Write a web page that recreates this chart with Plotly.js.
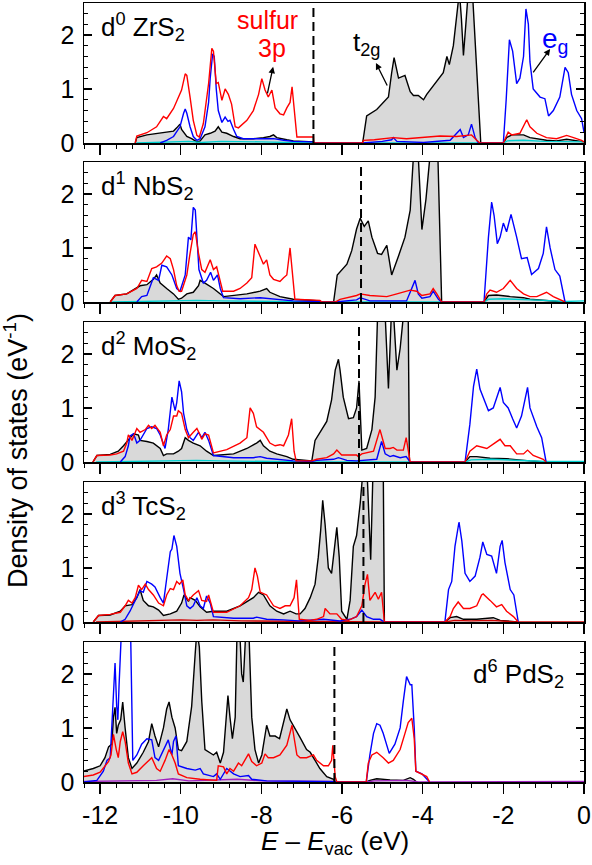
<!DOCTYPE html>
<html>
<head>
<meta charset="utf-8">
<script src="https://cdn.plot.ly/plotly-3.0.1.min.js"></script>
<style>html,body{margin:0;padding:0;background:#fff;}#chart{width:592px;height:865px;}</style>
</head>
<body>
<div id="chart"></div>
<script>
// ---------- DATA : [energy (eV), DOS (1/eV)] ----------
const compounds = ['d<sup>0</sup> ZrS<sub>2</sub>', 'd<sup>1</sup> NbS<sub>2</sub>', 'd<sup>2</sup> MoS<sub>2</sub>', 'd<sup>3</sup> TcS<sub>2</sub>', 'd<sup>6</sup> PdS<sub>2</sub>'];
const fermiLevels = [-6.71, -5.53, -5.58, -5.47, -6.19];
const xTickVals = [-12, -10, -8, -6, -4, -2, 0];
const xTickText = ['-12', '-10', '-8', '-6', '-4', '-2', '0'];
const yTickVals = [0, 1, 2];
const yTickText = ['0', '1', '2'];

// ZrS2
const ZrS2_t2g = [[-11.13,0],[-11.09,0.1],[-10.84,0.15],[-10.60,0.18],[-10.35,0.2],[-10.18,0.22],[-10.10,0.28],[-10.02,0.35],[-9.98,0.25],[-9.85,0.12],[-9.73,0.08],[-9.60,0.02],[-9.52,0.04],[-9.40,0.15],[-9.27,0.18],[-9.15,0.22],[-9.07,0.3],[-8.98,0.2],[-8.86,0.18],[-8.69,0.12],[-8.53,0.08],[-8.20,0.08],[-7.95,0.1],[-7.79,0.12],[-7.70,0.15],[-7.62,0.1],[-7.37,0.06],[-7.21,0.04],[-6.71,0.02],[-6.70,0],
  [-5.49,0],[-5.39,0.5],[-5.14,0.62],[-4.85,0.85],[-4.77,1.3],[-4.71,1.58],[-4.60,1.2],[-4.44,1.25],[-4.31,0.95],[-4.23,0.88],[-4.11,0.88],[-4.02,0.82],[-3.98,0.8],[-3.90,0.9],[-3.65,1.15],[-3.49,1.3],[-3.40,1.6],[-3.34,1.45],[-3.24,1.8],[-3.16,2.3],[-3.09,2.8],[-3.04,2.3],[-2.99,1.62],[-2.93,2.2],[-2.86,2.9],[-2.80,3.0],[-2.76,2.7],[-2.56,0],
  [-2.0,0],[-1.92,0.1],[-1.79,0.15],[-1.50,0.15],[-1.34,0.1],[-0.93,0.05],[-0.68,0.04],[-0.43,0.07],[-0.02,0.02],[0,0.02]];
const ZrS2_eg = [[-10.51,0],[-10.35,0.05],[-10.18,0.12],[-10.02,0.3],[-9.93,0.55],[-9.89,0.63],[-9.85,0.55],[-9.77,0.3],[-9.69,0.12],[-9.60,0.05],[-9.52,0.08],[-9.40,0.3],[-9.31,0.75],[-9.27,1.2],[-9.21,1.65],[-9.17,1.6],[-9.12,1.0],[-9.07,0.6],[-8.98,0.38],[-8.90,0.48],[-8.83,0.4],[-8.78,0.42],[-8.69,0.25],[-8.61,0.12],[-8.45,0.08],[-8.03,0.08],[-7.70,0.08],[-7.45,0.05],[-7.21,0.03],[-6.71,0.02],[-6.70,0],
  [-5.49,0],[-5.0,0.03],[-4.77,0.06],[-4.73,0.1],[-4.64,0.03],[-3.98,0.01],[-3.32,0.05],[-3.07,0.25],[-2.99,0.1],[-2.87,0.15],[-2.79,0.35],[-2.70,0.1],[-2.62,0],
  [-2.0,0],[-1.93,0.8],[-1.85,1.91],[-1.77,1.7],[-1.67,1.1],[-1.59,1.2],[-1.50,1.6],[-1.44,2.48],[-1.38,2.2],[-1.34,1.5],[-1.26,1.0],[-1.09,0.85],[-0.97,0.82],[-0.88,0.5],[-0.76,0.6],[-0.60,0.85],[-0.47,1.4],[-0.39,1.3],[-0.31,0.9],[-0.18,0.6],[-0.06,0.45],[0,0.2]];
const ZrS2_S3p = [[-11.13,0],[-11.09,0.13],[-10.84,0.19],[-10.60,0.3],[-10.43,0.49],[-10.35,0.45],[-10.18,0.64],[-10.06,0.85],[-9.98,0.98],[-9.89,1.28],[-9.85,1.25],[-9.77,0.85],[-9.69,0.42],[-9.60,0.14],[-9.54,0.11],[-9.44,0.36],[-9.31,1.1],[-9.23,1.75],[-9.19,1.7],[-9.12,1.1],[-9.07,1.12],[-8.98,0.79],[-8.90,1.0],[-8.82,0.9],[-8.74,0.72],[-8.65,0.3],[-8.57,0.28],[-8.36,0.42],[-8.20,0.6],[-8.07,0.9],[-7.99,1.19],[-7.91,0.98],[-7.83,0.85],[-7.74,0.98],[-7.66,0.65],[-7.54,0.54],[-7.45,0.52],[-7.37,0.65],[-7.29,0.75],[-7.24,1.04],[-7.19,0.7],[-7.12,0.11],[-6.71,0.11],[-6.70,0],
  [-5.49,0],[-5.47,0.05],[-5.2,0.06],[-4.73,0.1],[-4.4,0.08],[-3.98,0.1],[-3.57,0.13],[-3.16,0.12],[-2.79,0.15],[-2.66,0.05],[-2.58,0],
  [-2.0,0],[-1.93,0.12],[-1.88,0.2],[-1.79,0.15],[-1.59,0.18],[-1.42,0.43],[-1.34,0.3],[-1.17,0.18],[-0.93,0.1],[-0.68,0.08],[-0.43,0.14],[-0.26,0.1],[-0.06,0.05],[0,0.02]];
const ZrS2_s = [[-11.1,0],[-10.0,0.02],[-9.8,0.03],[-9.5,0.01],[-9.0,0.03],[-8.0,0.02],[-7.0,0.01],[-6.7,0],[-2.0,0],[-1.9,0.04],[-1.5,0.05],[-1.0,0.03],[0,0.02]];

// NbS2
const NbS2_t2g = [[-11.75,0],[-11.63,0.12],[-11.34,0.15],[-11.17,0.22],[-11.01,0.3],[-10.84,0.32],[-10.68,0.42],[-10.60,0.5],[-10.51,0.35],[-10.35,0.25],[-10.18,0.15],[-10.06,0.05],[-9.98,0.07],[-9.85,0.15],[-9.69,0.18],[-9.56,0.3],[-9.52,0.4],[-9.40,0.35],[-9.19,0.25],[-8.94,0.1],[-8.69,0.12],[-8.36,0.15],[-8.03,0.2],[-7.87,0.25],[-7.79,0.18],[-7.54,0.1],[-7.21,0.05],[-6.55,0.02],[-6.5,0],
  [-6.21,0],[-6.12,0.5],[-5.88,0.7],[-5.76,0.95],[-5.64,1.35],[-5.55,1.55],[-5.45,1.4],[-5.35,1.5],[-5.26,1.2],[-5.12,0.9],[-5.02,0.88],[-4.89,1.05],[-4.77,0.5],[-4.60,0.85],[-4.44,1.2],[-4.31,1.7],[-4.25,2.7],[-4.19,3.2],[-4.11,2.7],[-4.02,1.34],[-3.92,1.9],[-3.82,2.7],[-3.70,3.0],[-3.62,2.6],[-3.53,0],
  [-2.48,0],[-2.37,0.12],[-2.17,0.13],[-1.83,0.1],[-1.50,0.08],[-1.34,0.05],[-0.93,0.03],[-0.47,0]];
const NbS2_eg = [[-11.09,0],[-10.97,0.1],[-10.84,0.12],[-10.68,0.45],[-10.55,0.4],[-10.47,0.68],[-10.35,0.65],[-10.22,0.5],[-10.10,0.25],[-10.02,0.2],[-9.89,0.5],[-9.81,1.2],[-9.75,1.15],[-9.69,1.75],[-9.64,1.7],[-9.60,1.2],[-9.55,0.6],[-9.44,0.35],[-9.36,0.4],[-9.26,0.55],[-9.19,0.4],[-9.09,0.5],[-9.02,0.25],[-8.94,0.08],[-8.53,0.06],[-8.03,0.08],[-7.87,0.07],[-7.54,0.04],[-7.21,0.02],[-6.55,0.01],[-6.5,0],
  [-6.17,0],[-5.64,0.04],[-5.55,0.08],[-5.31,0.02],[-4.40,0.02],[-4.19,0.4],[-4.11,0.15],[-4.02,0.07],[-3.82,0.1],[-3.74,0.2],[-3.61,0.05],[-3.53,0],
  [-2.48,0],[-2.37,1.2],[-2.29,1.85],[-2.23,1.6],[-2.15,1.08],[-2.08,1.2],[-2.0,1.46],[-1.92,1.3],[-1.81,1.62],[-1.75,1.45],[-1.67,1.2],[-1.55,0.8],[-1.41,0.82],[-1.30,0.51],[-1.13,0.62],[-1.01,0.9],[-0.93,1.39],[-0.84,1.0],[-0.72,0.6],[-0.60,0.48],[-0.51,0.1],[-0.47,0]];
const NbS2_S3p = [[-11.75,0],[-11.63,0.12],[-11.34,0.15],[-11.09,0.25],[-10.97,0.4],[-10.84,0.38],[-10.72,0.62],[-10.60,0.65],[-10.47,0.72],[-10.35,0.85],[-10.26,0.8],[-10.18,0.6],[-10.10,0.3],[-10.04,0.2],[-9.98,0.2],[-9.85,0.5],[-9.77,0.9],[-9.69,1.25],[-9.64,1.3],[-9.56,0.9],[-9.48,0.6],[-9.40,0.55],[-9.27,0.78],[-9.19,0.6],[-9.11,0.65],[-9.02,0.35],[-8.96,0.2],[-8.69,0.2],[-8.53,0.25],[-8.36,0.35],[-8.24,0.45],[-8.16,1.07],[-8.07,0.9],[-7.95,0.7],[-7.87,0.78],[-7.79,0.5],[-7.70,0.42],[-7.54,0.38],[-7.45,0.45],[-7.37,0.5],[-7.29,1.0],[-7.22,0.5],[-7.17,0.05],[-6.55,0.03],[-6.5,0],
  [-6.17,0],[-6.05,0.05],[-5.64,0.12],[-5.55,0.15],[-5.31,0.12],[-4.89,0.1],[-4.64,0.15],[-4.31,0.22],[-4.15,0.2],[-4.02,0.12],[-3.82,0.15],[-3.74,0.25],[-3.65,0.15],[-3.53,0],
  [-2.48,0],[-2.41,0.15],[-2.33,0.22],[-2.17,0.18],[-2.0,0.25],[-1.83,0.4],[-1.67,0.25],[-1.50,0.15],[-1.34,0.1],[-1.17,0.1],[-0.93,0.18],[-0.76,0.1],[-0.47,0]];
const NbS2_s = [[-11.7,0],[-10.0,0.02],[-9.6,0.03],[-9.0,0.02],[-7.5,0.01],[-6.5,0],[-2.48,0],[-2.37,0.05],[-2.0,0.06],[-1.5,0.05],[-1.0,0.03],[-0.47,0.01],[0,0.02]];

// MoS2
const MoS2_t2g = [[-12.18,0],[-12.08,0.12],[-11.75,0.14],[-11.55,0.2],[-11.42,0.3],[-11.26,0.45],[-11.17,0.52],[-11.05,0.5],[-11.01,0.4],[-10.84,0.38],[-10.68,0.35],[-10.51,0.25],[-10.43,0.12],[-10.35,0.15],[-10.18,0.15],[-10.06,0.2],[-9.98,0.25],[-9.89,0.45],[-9.81,0.4],[-9.69,0.35],[-9.52,0.3],[-9.36,0.2],[-9.19,0.12],[-8.69,0.15],[-8.36,0.25],[-8.12,0.35],[-8.03,0.4],[-7.95,0.3],[-7.79,0.2],[-7.62,0.15],[-7.37,0.1],[-7.21,0.05],[-6.75,0.02],
  [-6.67,0.4],[-6.55,0.55],[-6.38,0.75],[-6.26,1.15],[-6.17,1.7],[-6.09,1.9],[-6.05,1.7],[-5.97,1.2],[-5.84,0.8],[-5.72,0.82],[-5.64,1.0],[-5.58,1.5],[-5.55,0.8],[-5.51,0.22],[-5.39,0.25],[-5.26,0.6],[-5.18,1.2],[-5.12,2.7],[-5.0,3.0],[-4.93,2.7],[-4.85,1.36],[-4.78,2.7],[-4.72,2.7],[-4.64,1.7],[-4.56,2.1],[-4.48,2.7],[-4.36,2.8],[-4.33,0],
  [-2.95,0],[-2.83,0.1],[-2.66,0.1],[-2.33,0.07],[-1.92,0.06],[-1.67,0.04],[-1.34,0.02],[-0.94,0]];
const MoS2_eg = [[-11.50,0],[-11.38,0.1],[-11.30,0.3],[-11.26,0.48],[-11.17,0.52],[-11.09,0.35],[-11.01,0.4],[-10.93,0.5],[-10.84,0.62],[-10.72,0.65],[-10.60,0.62],[-10.51,0.5],[-10.39,0.25],[-10.31,0.6],[-10.22,1.2],[-10.14,0.95],[-10.10,1.1],[-10.04,1.5],[-9.98,1.3],[-9.93,0.9],[-9.85,0.6],[-9.77,0.45],[-9.69,0.4],[-9.56,0.55],[-9.48,0.45],[-9.40,0.55],[-9.31,0.4],[-9.19,0.12],[-8.69,0.08],[-8.20,0.08],[-8.03,0.1],[-7.87,0.07],[-7.54,0.04],[-7.21,0.02],[-6.75,0.01],
  [-6.63,0.03],[-6.21,0.05],[-6.09,0.08],[-5.88,0.03],[-5.64,0.02],[-5.14,0.05],[-5.02,0.38],[-4.93,0.15],[-4.81,0.1],[-4.73,0.12],[-4.56,0.08],[-4.41,0.1],[-4.31,0],
  [-2.95,0],[-2.83,0.7],[-2.74,1.4],[-2.66,1.72],[-2.58,1.35],[-2.50,1.2],[-2.37,0.95],[-2.25,1.0],[-2.17,1.2],[-2.08,1.38],[-2.0,1.1],[-1.88,1.0],[-1.77,0.8],[-1.67,0.63],[-1.55,0.85],[-1.40,1.38],[-1.34,1.0],[-1.17,0.65],[-1.05,0.45],[-0.94,0]];
const MoS2_S3p = [[-12.18,0],[-12.08,0.12],[-11.75,0.13],[-11.59,0.15],[-11.42,0.2],[-11.34,0.35],[-11.30,0.5],[-11.21,0.4],[-11.09,0.62],[-11.01,0.55],[-10.88,0.6],[-10.80,0.68],[-10.72,0.62],[-10.64,0.68],[-10.51,0.55],[-10.43,0.3],[-10.35,0.5],[-10.26,0.6],[-10.18,0.85],[-10.10,0.85],[-10.06,0.95],[-9.98,0.9],[-9.89,0.6],[-9.81,0.45],[-9.69,0.55],[-9.60,0.62],[-9.52,0.5],[-9.48,0.42],[-9.40,0.52],[-9.31,0.5],[-9.19,0.17],[-8.86,0.23],[-8.53,0.35],[-8.36,0.45],[-8.28,1.0],[-8.20,0.9],[-8.12,0.65],[-7.95,0.55],[-7.79,0.35],[-7.66,0.3],[-7.54,0.32],[-7.45,0.3],[-7.33,0.5],[-7.25,0.8],[-7.19,0.2],[-7.14,0.02],[-6.75,0.02],
  [-6.63,0.05],[-6.38,0.08],[-6.21,0.15],[-6.13,0.22],[-6.01,0.13],[-5.64,0.13],[-5.60,0.1],[-5.51,0.15],[-5.22,0.2],[-5.06,0.6],[-4.93,0.25],[-4.81,0.25],[-4.73,0.27],[-4.64,0.22],[-4.48,0.22],[-4.41,0.45],[-4.36,0.2],[-4.31,0],
  [-2.95,0],[-2.83,0.2],[-2.66,0.3],[-2.41,0.25],[-2.08,0.42],[-1.96,0.3],[-1.83,0.3],[-1.67,0.15],[-1.50,0.15],[-1.40,0.22],[-1.26,0.12],[-1.01,0.05],[-0.94,0]];
const MoS2_s = [[-12.1,0],[-10.0,0.02],[-9.6,0.03],[-9.0,0.02],[-7.5,0.01],[-6.7,0],[-2.95,0],[-2.8,0.04],[-2.3,0.05],[-1.8,0.04],[-1.3,0.02],[-0.94,0.01],[0,0.01]];

// TcS2
const TcS2_t2g = [[-12.17,0],[-12.04,0.12],[-11.75,0.13],[-11.50,0.2],[-11.38,0.3],[-11.21,0.32],[-11.09,0.45],[-11.01,0.6],[-10.93,0.4],[-10.80,0.3],[-10.68,0.28],[-10.55,0.22],[-10.43,0.12],[-10.26,0.15],[-10.10,0.2],[-9.98,0.35],[-9.92,0.5],[-9.81,0.38],[-9.77,0.45],[-9.64,0.4],[-9.52,0.28],[-9.36,0.18],[-9.19,0.2],[-8.86,0.2],[-8.53,0.3],[-8.20,0.45],[-8.07,0.55],[-7.95,0.5],[-7.79,0.3],[-7.62,0.2],[-7.45,0.15],[-7.29,0.2],[-7.14,0.15],[-7.04,0.15],[-6.92,0.25],[-6.79,0.45],[-6.67,0.7],[-6.59,1.2],[-6.53,1.7],[-6.48,2.25],[-6.42,1.8],[-6.34,1.0],[-6.26,0.9],[-6.17,1.5],[-6.13,1.75],[-6.07,1.2],[-6.01,0.2],[-5.88,0.05],[-5.80,0.4],[-5.72,1.4],[-5.64,1.6],[-5.55,2.2],[-5.51,2.6],[-5.47,2.9],[-5.43,2.8],[-5.37,2.6],[-5.29,1.15],[-5.24,2.6],[-5.18,3.0],[-4.98,3.0],[-4.95,0],
  [-3.45,0],[-3.32,0.08],[-3.16,0.1],[-2.99,0.05],[-2.66,0.05],[-2.25,0.08],[-2.08,0.03],[-1.63,0]];
const TcS2_eg = [[-11.50,0],[-11.38,0.05],[-11.26,0.2],[-11.09,0.45],[-11.01,0.58],[-10.93,0.55],[-10.84,0.75],[-10.72,0.7],[-10.64,0.65],[-10.51,0.45],[-10.43,0.35],[-10.35,0.8],[-10.26,1.3],[-10.22,1.35],[-10.17,1.6],[-10.10,1.4],[-10.02,0.9],[-9.93,0.6],[-9.85,0.3],[-9.77,0.25],[-9.69,0.3],[-9.60,0.45],[-9.52,0.3],[-9.44,0.25],[-9.36,0.48],[-9.27,0.35],[-9.19,0.1],[-8.69,0.07],[-8.20,0.07],[-8.12,0.09],[-7.87,0.05],[-7.45,0.04],[-7.08,0.02],[-6.46,0.05],[-6.05,0.02],[-5.80,0.05],[-5.64,0.1],[-5.51,0.22],[-5.39,0.1],[-5.22,0.05],[-5.06,0.05],[-4.95,0],
  [-3.45,0],[-3.36,0.6],[-3.28,0.75],[-3.20,1.4],[-3.10,1.85],[-3.03,1.5],[-2.95,0.9],[-2.83,0.75],[-2.70,0.85],[-2.58,1.2],[-2.51,1.48],[-2.41,1.25],[-2.29,1.22],[-2.17,0.9],[-2.08,1.4],[-2.03,1.51],[-1.96,1.1],[-1.83,0.6],[-1.74,0.5],[-1.63,0]];
const TcS2_S3p = [[-12.17,0],[-12.04,0.12],[-11.75,0.14],[-11.50,0.18],[-11.38,0.3],[-11.30,0.4],[-11.21,0.35],[-11.13,0.45],[-11.05,0.68],[-10.97,0.6],[-10.88,0.7],[-10.80,0.6],[-10.68,0.5],[-10.55,0.35],[-10.43,0.3],[-10.35,0.5],[-10.26,0.62],[-10.18,0.6],[-10.10,0.75],[-10.03,0.7],[-9.95,0.78],[-9.89,0.5],[-9.81,0.4],[-9.69,0.5],[-9.56,0.58],[-9.48,0.4],[-9.36,0.38],[-9.31,0.5],[-9.19,0.18],[-8.86,0.18],[-8.53,0.3],[-8.32,0.45],[-8.24,0.6],[-8.16,1.0],[-8.10,0.85],[-8.03,0.55],[-7.87,0.5],[-7.70,0.3],[-7.54,0.25],[-7.41,0.3],[-7.29,0.3],[-7.19,0.45],[-7.13,0.78],[-7.06,0.05],[-6.79,0.03],[-6.63,0.05],[-6.46,0.1],[-6.42,0.25],[-6.30,0.15],[-6.13,0.15],[-6.01,0.05],[-5.84,0.03],[-5.64,0.1],[-5.51,0.3],[-5.43,0.7],[-5.37,0.88],[-5.31,0.4],[-5.18,0.55],[-5.10,0.42],[-5.02,0.55],[-4.95,0],
  [-3.45,0],[-3.32,0.1],[-3.24,0.25],[-3.12,0.37],[-2.99,0.25],[-2.83,0.25],[-2.66,0.3],[-2.54,0.5],[-2.50,0.52],[-2.33,0.4],[-2.17,0.28],[-2.04,0.32],[-1.92,0.2],[-1.75,0.1],[-1.63,0]];
const TcS2_s = [[-12.1,0],[-11.2,0.02],[-10.6,0.03],[-10.0,0.04],[-9.6,0.03],[-9.2,0.04],[-8.5,0.02],[-7.2,0.01],[-4.95,0],[-3.45,0],[-3.2,0.03],[-2.8,0.02],[-2.3,0.03],[-1.63,0],[0,0]];

// PdS2
const PdS2_t2g = [[-12.41,0.2],[-12.17,0.25],[-12.0,0.3],[-11.88,0.45],[-11.79,0.65],[-11.71,0.7],[-11.67,1.2],[-11.63,1.38],[-11.59,0.9],[-11.55,1.05],[-11.49,1.15],[-11.44,1.48],[-11.38,1.0],[-11.30,0.45],[-11.21,0.25],[-11.09,0.35],[-10.93,0.55],[-10.80,0.75],[-10.72,1.08],[-10.64,0.85],[-10.55,0.65],[-10.43,1.0],[-10.35,1.35],[-10.29,1.48],[-10.22,1.2],[-10.14,1.0],[-10.06,0.6],[-9.98,0.58],[-9.85,0.75],[-9.73,1.4],[-9.64,2.4],[-9.60,2.8],[-9.54,2.5],[-9.48,1.5],[-9.40,0.6],[-9.19,0.5],[-9.11,0.55],[-9.02,0.35],[-8.94,0.55],[-8.88,1.2],[-8.83,1.6],[-8.78,1.2],[-8.72,0.8],[-8.65,1.2],[-8.61,2.6],[-8.55,3.0],[-8.49,2.0],[-8.45,1.85],[-8.40,2.6],[-8.32,3.0],[-8.24,1.2],[-8.16,0.6],[-8.07,0.35],[-7.99,0.5],[-7.91,0.9],[-7.87,1.05],[-7.79,0.85],[-7.66,0.85],[-7.55,0.8],[-7.45,1.1],[-7.37,1.35],[-7.29,1.15],[-7.17,0.98],[-7.04,0.82],[-6.88,0.6],[-6.79,0.55],[-6.67,0.4],[-6.55,0.25],[-6.38,0.1],[-6.21,0.05],[-6.17,0],
  [-5.40,0],[-5.31,0.03],[-5.14,0.06],[-4.81,0.04],[-4.48,0.03],[-4.31,0.08],[-4.23,0.05],[-4.15,0]];
const PdS2_eg = [[-12.41,0],[-12.08,0.03],[-11.92,0.2],[-11.83,0.4],[-11.75,0.45],[-11.67,1.8],[-11.63,2.2],[-11.59,1.4],[-11.56,1.15],[-11.53,1.8],[-11.49,2.6],[-11.46,3.0],[-11.30,3.0],[-11.24,2.6],[-11.19,0.4],[-11.09,0.5],[-10.97,0.7],[-10.84,0.8],[-10.72,0.78],[-10.64,0.45],[-10.55,0.4],[-10.43,0.6],[-10.31,0.78],[-10.22,0.5],[-10.18,0.75],[-10.12,0.85],[-10.06,0.3],[-9.85,0.25],[-9.64,0.22],[-9.52,0.25],[-9.44,0.15],[-9.19,0.1],[-9.11,0.15],[-9.02,0.05],[-8.86,0.25],[-8.69,0.15],[-8.53,0.1],[-8.32,0.12],[-8.24,0.05],[-7.87,0.02],[-7.04,0.01],[-6.17,0.01],[-6.13,0],
  [-5.40,0],[-5.31,0.5],[-5.22,0.9],[-5.14,1.08],[-5.06,1.05],[-4.98,0.9],[-4.89,0.65],[-4.83,0.53],[-4.69,0.7],[-4.56,1.0],[-4.48,1.5],[-4.40,1.95],[-4.31,1.8],[-4.27,1.8],[-4.21,1.0],[-4.17,0.2],[-4.02,0.15],[-3.83,0]];
const PdS2_S3p = [[-12.41,0.1],[-12.17,0.13],[-12.0,0.18],[-11.88,0.3],[-11.79,0.38],[-11.73,0.5],[-11.67,0.88],[-11.60,0.6],[-11.55,0.45],[-11.50,0.75],[-11.44,0.93],[-11.38,0.75],[-11.30,0.35],[-11.21,0.15],[-11.09,0.18],[-10.93,0.3],[-10.72,0.45],[-10.60,0.25],[-10.51,0.2],[-10.39,0.4],[-10.29,0.6],[-10.22,0.5],[-10.14,0.35],[-10.06,0.15],[-9.85,0.08],[-9.52,0.05],[-9.11,0.03],[-9.07,0.3],[-8.94,0.28],[-8.86,0.15],[-8.78,0.25],[-8.69,0.2],[-8.57,0.35],[-8.49,0.3],[-8.32,0.52],[-8.24,0.38],[-8.12,0.3],[-7.99,0.35],[-7.91,0.52],[-7.83,0.45],[-7.70,0.45],[-7.54,0.5],[-7.37,0.68],[-7.24,1.05],[-7.12,0.5],[-7.04,0.45],[-6.88,0.45],[-6.71,0.5],[-6.63,0.4],[-6.46,0.3],[-6.34,0.3],[-6.26,0.4],[-6.23,0.68],[-6.17,0.1],[-6.13,0],
  [-5.40,0],[-5.35,0.35],[-5.26,0.5],[-5.14,0.55],[-4.98,0.45],[-4.85,0.35],[-4.73,0.4],[-4.56,0.6],[-4.44,0.9],[-4.36,1.1],[-4.27,1.18],[-4.21,0.8],[-4.17,0.2],[-4.02,0.15],[-3.90,0.1],[-3.83,0]];
const PdS2_s = [[-12.41,0.01],[-11.5,0.02],[-10.6,0.03],[-10.2,0.06],[-9.8,0.02],[-8.6,0.05],[-8.0,0.02],[-6.2,0.01],[-6.15,0],[-5.4,0],[-5.2,0.02],[-4.4,0.03],[-4.1,0],[0,0.01]];

const panels = [
  {t2g: ZrS2_t2g, eg: ZrS2_eg, S3p: ZrS2_S3p, s: ZrS2_s, sColor: '#00d0d0'},
  {t2g: NbS2_t2g, eg: NbS2_eg, S3p: NbS2_S3p, s: NbS2_s, sColor: '#00d0d0'},
  {t2g: MoS2_t2g, eg: MoS2_eg, S3p: MoS2_S3p, s: MoS2_s, sColor: '#00d0d0'},
  {t2g: TcS2_t2g, eg: TcS2_eg, S3p: TcS2_S3p, s: TcS2_s, sColor: '#d00000'},
  {t2g: PdS2_t2g, eg: PdS2_eg, S3p: PdS2_S3p, s: PdS2_s, sColor: '#a020c0'}
];

// ---------- BUILD ----------
const FONT = '"Liberation Sans", Arial, Helvetica, sans-serif';
const traces = [];
const layout = {
  width: 592, height: 865,
  margin: {l: 84, r: 8, t: 3, b: 83},
  paper_bgcolor: '#fff', plot_bgcolor: '#fff',
  showlegend: false,
  font: {family: FONT, color: '#000', size: 22},
  shapes: [], annotations: []
};
const H = 779; // plot height px
const domains = [[639/H, 1], [480/H, 620/H], [320/H, 460/H], [160/H, 300/H], [0, 140/H]];

panels.forEach((p, i) => {
  const n = i + 1;
  const xa = 'x' + (n === 1 ? '' : n), ya = 'y' + (n === 1 ? '' : n);
  const add = (data, color, fill) => traces.push({
    type: 'scatter', mode: 'lines', xaxis: xa, yaxis: ya,
    x: data.map(d => d[0]), y: data.map(d => d[1]),
    line: {color: color, width: 1.4, shape: 'linear'},
    fill: fill ? 'tozeroy' : 'none', fillcolor: '#d9d9d9',
    hoverinfo: 'skip'
  });
  add(p.t2g, '#000', true);
  add(p.s, p.sColor, false);
  add(p.eg, '#0000ff', false);
  add(p.S3p, '#ff0000', false);

  layout['xaxis' + (n === 1 ? '' : n)] = {
    domain: [0, 1], anchor: ya, range: [-12.4, 0], fixedrange: true,
    tickmode: 'array', tickvals: xTickVals, ticktext: xTickText,
    showticklabels: n === 5, tickfont: {size: 25, family: FONT},
    ticks: 'outside', ticklen: 10, tickwidth: 1.3, tickcolor: '#000',
    minor: {tickmode: 'linear', tick0: 0, dtick: 0.4, ticks: 'outside', ticklen: 4, tickwidth: 1, tickcolor: '#000'},
    showline: true, linecolor: '#000', linewidth: 1.5, mirror: true,
    showgrid: false, zeroline: false
  };
  layout['yaxis' + (n === 1 ? '' : n)] = {
    domain: domains[i], anchor: xa, range: [0, 2.59], fixedrange: true,
    tickmode: 'array', tickvals: yTickVals, ticktext: yTickText,
    tickfont: {size: 25, family: FONT},
    ticks: 'inside', ticklen: 8, tickwidth: 1.3, tickcolor: '#000',
    minor: {tickmode: 'linear', tick0: 0, dtick: 0.2, ticks: 'inside', ticklen: 4, tickwidth: 1, tickcolor: '#000'},
    showline: true, linecolor: '#000', linewidth: 1.5, mirror: 'ticks',
    showgrid: false, zeroline: false, ticklabelstandoff: 3
  };
  layout.shapes.push({
    type: 'line', xref: xa, yref: ya + ' domain', x0: fermiLevels[i], x1: fermiLevels[i], y0: 0, y1: 1,
    line: {color: '#000', width: 2, dash: '9px,5px'}
  });
  const right = n === 5;
  layout.annotations.push({
    xref: xa, yref: ya, x: right ? -0.45 : -12.02, y: right ? 1.99 : 2.15,
    xanchor: right ? 'right' : 'left', yanchor: 'middle', showarrow: false,
    text: compounds[i], font: {size: 26, family: FONT, color: '#000'}
  });
});

// labels in top panel
layout.annotations.push(
  {xref: 'x', yref: 'y', x: -7.84, y: 2.27, showarrow: false, xanchor: 'center', yanchor: 'middle',
   text: 'sulfur', font: {size: 25, color: '#ff0000', family: FONT}},
  {xref: 'x', yref: 'y', x: -7.74, y: 1.75, showarrow: false, xanchor: 'center', yanchor: 'middle',
   text: '3p', font: {size: 25, color: '#ff0000', family: FONT}},
  {xref: 'x', yref: 'y', x: -7.71, y: 1.41, ax: -6, ay: 28, showarrow: true, text: '',
   arrowhead: 2, arrowsize: 1, arrowwidth: 1.3, arrowcolor: '#000'},
  {xref: 'x', yref: 'y', x: -5.4, y: 1.85, showarrow: false, xanchor: 'center', yanchor: 'middle',
   text: 't<sub>2g</sub>', font: {size: 26, color: '#000', family: FONT}},
  {xref: 'x', yref: 'y', x: -5.16, y: 1.48, ax: 12, ay: 24, showarrow: true, text: '',
   arrowhead: 2, arrowsize: 1, arrowwidth: 1.3, arrowcolor: '#000'},
  {xref: 'x', yref: 'y', x: -0.72, y: 1.9, showarrow: false, xanchor: 'center', yanchor: 'middle',
   text: 'e<sub>g</sub>', font: {size: 28, color: '#0000ff', family: FONT}},
  {xref: 'x', yref: 'y', x: -0.84, y: 1.74, ax: -18, ay: 25, showarrow: true, text: '',
   arrowhead: 2, arrowsize: 1, arrowwidth: 1.3, arrowcolor: '#000'},
  // axis titles
  {xref: 'paper', yref: 'paper', x: -0.136, y: 0.425, showarrow: false, textangle: -90,
   xanchor: 'center', yanchor: 'middle', text: 'Density of states (eV<sup>-1</sup>)',
   font: {size: 27, color: '#000', family: FONT}},
  {xref: 'paper', yref: 'paper', x: 0.502, y: -0.078, showarrow: false,
   xanchor: 'center', yanchor: 'middle', text: '<i>E</i> – <i>E</i><sub>vac</sub> (eV)',
   font: {size: 26, color: '#000', family: FONT}}
);

Plotly.newPlot('chart', traces, layout, {staticPlot: true, displayModeBar: false});
</script>
</body>
</html>
